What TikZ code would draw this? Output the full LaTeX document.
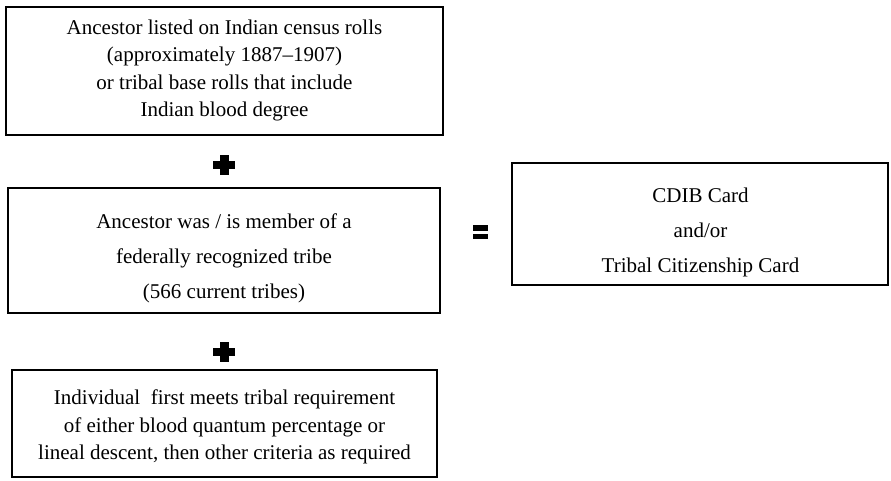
\documentclass[tikz,border=0pt]{standalone}
\usepackage{fontspec}
\setmainfont{Liberation Serif}
\begin{document}
\begin{tikzpicture}[x=1pt,y=-1pt,
  box/.style={draw=black,line width=1.8pt,rectangle,inner sep=0pt},
  txt/.style={align=center,inner sep=0pt,font=\fontsize{21}{27.5}\selectfont},
  txtwide/.style={align=center,inner sep=0pt,font=\fontsize{21}{35}\selectfont},
  sym/.style={fill=black,draw=none}]
\useasboundingbox (0,0) rectangle (891,480);
% boxes
\node[box,minimum width=437pt,minimum height=128pt] (b1) at (224.5,71) {};
\node[box,minimum width=432pt,minimum height=125pt] (b2) at (224,250.5) {};
\node[box,minimum width=425pt,minimum height=107pt] (b3) at (224.5,423.5) {};
\node[box,minimum width=376pt,minimum height=122pt] (b4) at (700,224) {};
% texts
\node[txt] (t1) at (224.5,70.5) {Ancestor listed on Indian census rolls\\(approximately 1887--1907)\\or tribal base rolls that include\\Indian blood degree};
\node[txtwide] (t2) at (224,258) {Ancestor was / is member of a\\federally recognized tribe\\(566 current tribes)};
\node[txt] (t3) at (224.5,427) {Individual\ \ first meets tribal requirement\\of either blood quantum percentage or\\lineal descent, then other criteria as required};
\node[txtwide] (t4) at (700.5,232) {CDIB Card\\and/or\\Tribal Citizenship Card};
% plus signs
\coordinate (p1) at (224,165);
\coordinate (p2) at (224,352);
\foreach \p in {p1,p2}{
  \fill[sym] ([xshift=-11pt,yshift=-4pt]\p) rectangle ([xshift=11pt,yshift=4pt]\p);
  \fill[sym] ([xshift=-4.5pt,yshift=-10pt]\p) rectangle ([xshift=4.5pt,yshift=10pt]\p);
}
% equals sign
\coordinate (eq) at (480,232);
\fill[sym] ([xshift=-7.5pt,yshift=-7pt]eq) rectangle ([xshift=7.5pt,yshift=-1.5pt]eq);
\fill[sym] ([xshift=-7.5pt,yshift=1.5pt]eq) rectangle ([xshift=7.5pt,yshift=7pt]eq);
\end{tikzpicture}
\end{document}
